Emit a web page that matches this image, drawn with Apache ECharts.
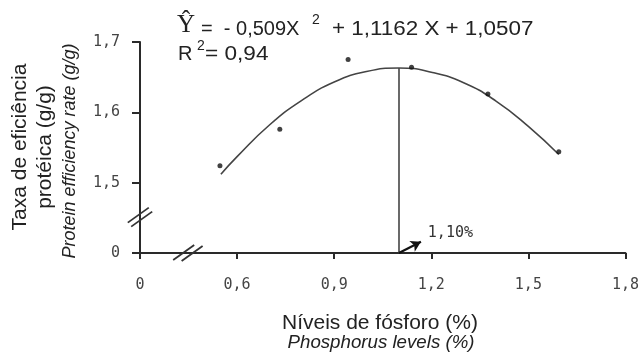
<!DOCTYPE html>
<html><head><meta charset="utf-8">
<script src="https://cdn.jsdelivr.net/npm/echarts@6/dist/echarts.min.js"></script>
<style>html,body{margin:0;padding:0;background:#fff}#c{width:642px;height:363px}</style>
</head><body><div id="c"></div>
<script>
// observed means
const pointsX = [0.547, 0.732, 0.943, 1.139, 1.375, 1.594];
const pointsY = [1.524, 1.576, 1.675, 1.664, 1.626, 1.544];
// fitted curve
const curveX = [0.55, 0.6, 0.7, 0.8, 0.9, 1.0, 1.1, 1.2, 1.3, 1.4, 1.5, 1.594];
const curveY = [1.512, 1.537, 1.582, 1.617, 1.643, 1.658, 1.663, 1.657, 1.642, 1.616, 1.580, 1.540];
const optimumX = 1.10;
const optimumY = 1.663;
const optimumLabel = '1,10%';
const xTickLabels = ['0', '0,6', '0,9', '1,2', '1,5', '1,8'];
const yTickLabels = ['0', '1,5', '1,6', '1,7'];
const xMin = 0.3, xMax = 1.8, xStep = 0.3;
const yMin = 1.4, yMax = 1.7, yStep = 0.1;

const SANS = '"Liberation Sans", Arial, sans-serif';
const TICKF = '"DejaVu Sans Mono", monospace';
const chart = echarts.init(document.getElementById('c'), null, {renderer: 'canvas'});

const option = {
  animation: false,
  backgroundColor: '#fff',
  grid: {left: 140, right: 16, top: 42, bottom: 110},
  xAxis: {
    type: 'value', min: xMin, max: xMax, interval: xStep,
    axisLine: {lineStyle: {color: '#2a2a2a', width: 2}},
    axisTick: {length: 6, lineStyle: {color: '#2a2a2a', width: 2}},
    splitLine: {show: false},
    axisLabel: {margin: 25, color: '#444', fontFamily: TICKF, fontSize: 15,
      formatter: (v, i) => xTickLabels[i]}
  },
  yAxis: {
    type: 'value', min: yMin, max: yMax, interval: yStep,
    axisLine: {lineStyle: {color: '#2a2a2a', width: 2}},
    axisTick: {length: 8, lineStyle: {color: '#2a2a2a', width: 2}},
    splitLine: {show: false},
    axisLabel: {margin: 20, color: '#444', fontFamily: TICKF, fontSize: 15,
      formatter: (v, i) => yTickLabels[i]}
  },
  series: [
    {
      type: 'line', smooth: true, showSymbol: false, z: 2,
      data: curveX.map((x, i) => [x, curveY[i]]),
      lineStyle: {color: '#444', width: 1.6},
      markLine: {
        silent: true, symbol: 'none',
        label: {show: false},
        lineStyle: {type: 'solid', color: '#444', width: 1.6},
        data: [
          [{coord: [optimumX, optimumY]}, {coord: [optimumX, yMin]}]
        ]
      }
    },
    {
      type: 'line', showSymbol: false, data: [], z: 3,
      markLine: {
        silent: true, symbol: ['none', 'arrow'], symbolSize: [9, 10],
        label: {show: false},
        lineStyle: {type: 'solid', color: '#111', width: 2.2},
        data: [
          [{coord: [optimumX, yMin]}, {coord: [1.168, 1.416]}]
        ]
      },
      markPoint: {
        silent: true,
        data: [{coord: [1.177, 1.428], symbol: 'circle', symbolSize: 0,
          label: {show: true, position: 'right', distance: 4, formatter: optimumLabel,
            color: '#333', fontFamily: TICKF, fontSize: 15}}]
      }
    },
    {
      type: 'scatter', z: 4, symbolSize: 5,
      itemStyle: {color: '#111'},
      data: pointsX.map((x, i) => [x, pointsY[i]])
    }
  ],
  graphic: [
    {type: 'text', x: 20, y: 147, rotation: Math.PI / 2,
      style: {text: 'Taxa de eficiência', font: '21px ' + SANS, fill: '#222', align: 'center', verticalAlign: 'middle'}},
    {type: 'text', x: 45, y: 147, rotation: Math.PI / 2,
      style: {text: 'protéica (g/g)', font: '21px ' + SANS, fill: '#222', align: 'center', verticalAlign: 'middle'}},
    {type: 'text', x: 70, y: 151, rotation: Math.PI / 2,
      style: {text: 'Protein efficiency rate (g/g)', font: 'italic 18px ' + SANS, fill: '#222', align: 'center', verticalAlign: 'middle'}},
    {type: 'text', x: 380, y: 323,
      style: {text: 'Níveis de fósforo (%)', font: '21px ' + SANS, fill: '#222', align: 'center', verticalAlign: 'middle'}},
    {type: 'text', x: 381, y: 343,
      style: {text: 'Phosphorus levels (%)', font: 'italic 18.7px ' + SANS, fill: '#222', align: 'center', verticalAlign: 'middle'}},
    {type: 'text', x: 177, y: 25,
      style: {text: 'Ŷ', font: '25px "Liberation Serif", serif', fill: '#222', align: 'left', verticalAlign: 'middle'}},
    {type: 'text', x: 201, y: 29,
      style: {text: '=  - 0,509X', font: '20px ' + SANS, fill: '#222', align: 'left', verticalAlign: 'middle'}},
    {type: 'text', x: 312, y: 20,
      style: {text: '2', font: '14px ' + SANS, fill: '#222', align: 'left', verticalAlign: 'middle'}},
    {type: 'text', x: 332, y: 29, scaleX: 1.12,
      style: {text: '+ 1,1162 X + 1,0507', font: '20px ' + SANS, fill: '#222', align: 'left', verticalAlign: 'middle'}},
    {type: 'text', x: 178, y: 54,
      style: {text: 'R', font: '20px ' + SANS, fill: '#222', align: 'left', verticalAlign: 'middle'}},
    {type: 'text', x: 197, y: 46,
      style: {text: '2', font: '14px ' + SANS, fill: '#222', align: 'left', verticalAlign: 'middle'}},
    {type: 'text', x: 205, y: 54, scaleX: 1.13,
      style: {text: '= 0,94', font: '20px ' + SANS, fill: '#222', align: 'left', verticalAlign: 'middle'}}
  ]
};
chart.setOption(option);

// axis break marks placed through the axes' own scales
function breakMarks(center, dx) {
  const [cx, cy] = center;
  const half = [10.5, -7.5];
  const mk = (ox, oy) => ({type: 'line', silent: true, z: 10,
    shape: {x1: cx + ox - half[0], y1: cy + oy - half[1], x2: cx + ox + half[0], y2: cy + oy + half[1]},
    style: {stroke: '#333', lineWidth: 1.8}});
  return [mk(-dx[0], -dx[1]), mk(dx[0], dx[1])];
}
const yBreak = chart.convertToPixel({gridIndex: 0}, [xMin, 1.451]);
const xBreak = chart.convertToPixel({gridIndex: 0}, [0.448, yMin]);
const extra = breakMarks(yBreak, [1.7, 2]).concat(breakMarks(xBreak, [4.2, 0.5]));
chart.setOption({graphic: option.graphic.concat(extra)});
</script>
</body></html>
